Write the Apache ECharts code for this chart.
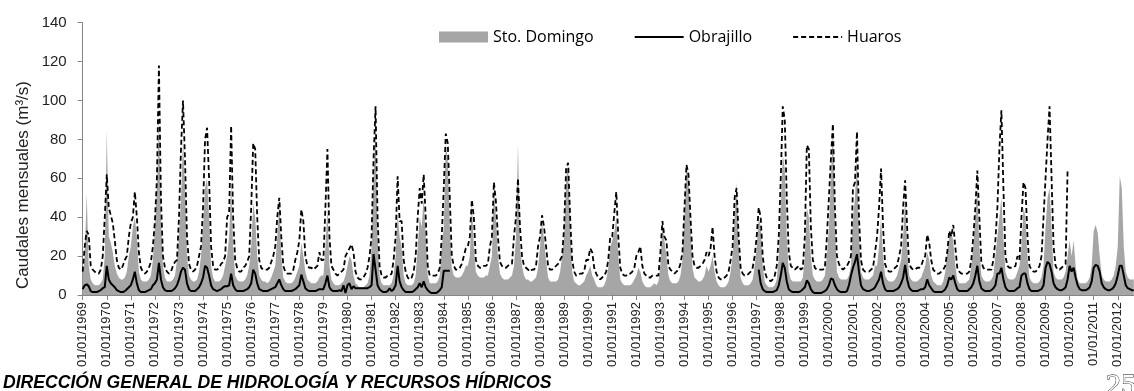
<!DOCTYPE html>
<html>
<head>
<meta charset="utf-8">
<script src="https://cdn.jsdelivr.net/npm/echarts@6/dist/echarts.min.js"></script>
<style>
html,body{margin:0;padding:0;background:#fff;}
#chart{width:1134px;height:391px;}
</style>
</head>
<body>
<div id="chart"></div>
<script>
const firstYear = 1969;
const lastYear = 2012;
const lastMonth = 9; // data ends September 2012

const yTicks = { min: 0, max: 140, step: 20 };

const seriesNames = ['Sto. Domingo', 'Obrajillo', 'Huaros'];

// Monthly flows (m3/s), one row per year Jan..Dec
const stoDomingo = [
/*1969*/ 10,20,52,15,8,6,5,5,5,6,8,20,
/*1970*/ 85,30,27,22,15,11,9,8,8,9,12,20,
/*1971*/ 25,35,40,30,12,8,7,7,7,8,10,18,
/*1972*/ 35,55,90,40,15,9,7,7,7,8,10,18,
/*1973*/ 30,50,80,55,20,10,8,7,7,8,12,20,
/*1974*/ 35,55,60,40,15,9,7,7,7,8,10,15,
/*1975*/ 20,30,57,25,10,8,7,7,7,8,10,15,
/*1976*/ 25,47,40,20,10,8,7,7,6,7,9,12,
/*1977*/ 15,30,47,20,9,7,6,6,6,7,9,12,
/*1978*/ 15,27,20,12,8,7,6,6,6,7,9,10,
/*1979*/ 10,25,45,15,8,6,5,5,5,6,7,10,
/*1980*/ 15,20,18,10,6,5,4,4,4,5,6,10,
/*1981*/ 25,60,85,30,10,6,5,5,5,5,6,10,
/*1982*/ 20,42,30,25,10,6,5,5,5,6,10,25,
/*1983*/ 40,35,50,30,10,6,6,6,6,7,10,25,
/*1984*/ 35,78,70,35,14,10,9,9,9,10,12,15,
/*1985*/ 15,20,48,25,12,10,9,9,9,10,10,15,
/*1986*/ 20,55,40,20,11,9,8,8,8,9,10,15,
/*1987*/ 30,78,25,15,10,8,8,7,7,8,9,14,
/*1988*/ 25,38,28,18,9,7,7,7,7,8,12,20,
/*1989*/ 30,60,67,35,12,7,6,5,5,6,7,10,
/*1990*/ 12,15,10,8,5,4,4,4,5,8,14,25,
/*1991*/ 28,32,40,20,8,6,5,5,5,5,6,8,
/*1992*/ 10,14,12,7,5,4,4,4,5,6,5,7,
/*1993*/ 15,36,28,20,10,7,6,6,6,7,10,18,
/*1994*/ 40,66,60,35,14,9,8,7,7,8,10,15,
/*1995*/ 12,15,20,12,7,5,4,4,4,5,7,12,
/*1996*/ 20,40,58,25,9,6,5,5,5,6,8,15,
/*1997*/ 25,40,35,15,7,5,4,4,4,5,8,20,
/*1998*/ 45,72,65,30,12,8,7,7,7,7,7,9,
/*1999*/ 20,45,40,20,10,8,7,7,7,8,10,20,
/*2000*/ 35,60,85,35,12,9,8,8,8,8,10,15,
/*2001*/ 40,50,70,30,12,9,8,8,8,9,10,15,
/*2002*/ 15,25,40,20,10,8,7,7,7,8,10,14,
/*2003*/ 18,30,50,25,10,8,7,7,7,8,9,12,
/*2004*/ 15,22,18,10,7,6,5,5,5,7,12,22,
/*2005*/ 30,32,28,15,8,6,6,6,6,7,8,15,
/*2006*/ 25,40,55,25,10,8,7,7,7,8,10,20,
/*2007*/ 30,40,50,30,12,9,8,8,8,9,12,15,
/*2008*/ 25,45,40,20,9,7,6,6,6,7,9,15,
/*2009*/ 35,50,55,35,12,9,8,8,8,9,12,20,
/*2010*/ 28,20,28,15,8,6,6,6,6,7,9,15,
/*2011*/ 33,36,32,20,10,8,7,7,7,8,10,15,
/*2012*/ 25,61,55,25,12,9,8,8,8
];

const obrajillo = [
/*1969*/ 3,5,5.5,4.5,2,1.5,1.5,1.5,2,2.5,3.5,4,
/*1970*/ 15,8,6,5,4,2.5,2,1.5,1.5,2,3,4,
/*1971*/ 5,8,12,6,2.5,1.5,1.5,1.5,2,2.5,3,5,
/*1972*/ 6,8,16.5,8,4,2.5,2,2,2,2.5,3.5,5,
/*1973*/ 8,12,14,13,6,3,2,2,2,3,4,6,
/*1974*/ 9,15,14,10,5,3,2.5,2,2.5,3,4,4.5,
/*1975*/ 4.5,5,11,5,3,2,2,2,2,2.5,3,4,
/*1976*/ 6,13,11,6,3,2.5,2,2,2,2.5,3,3.5,
/*1977*/ 4,6,8,5,3,2,2,2,2,2.5,3,4,
/*1978*/ 5,10.5,7,3.5,2.5,2,2,2,2,2.5,3,3,
/*1979*/ 3,6,10,4,2.5,2,2,2,2.5,2,5,1,
/*1980*/ 5,6,3,4.5,3.5,3.5,3.5,3.5,3.5,3.5,3.5,4,
/*1981*/ 5,21,13,5,3,2,1.5,1.5,2,3.5,2,3,
/*1982*/ 5,15,7,4,2.5,1.5,1.5,1.5,1.5,2,3,4,
/*1983*/ 6,4,7,4,2.5,1.5,1,1,1,1.5,2.5,4,
/*1984*/ 12.5,12.5,12.5,12.5,null,null,null,null,null,null,null,null,
/*1985*/ null,null,null,null,null,null,null,null,null,null,null,null,
/*1986*/ null,null,null,null,null,null,null,null,null,null,null,null,
/*1987*/ null,null,null,null,null,null,null,null,null,null,null,null,
/*1988*/ null,null,null,null,null,null,null,null,null,null,null,null,
/*1989*/ null,null,null,null,null,null,null,null,null,null,null,null,
/*1990*/ null,null,null,null,null,null,null,null,null,null,null,null,
/*1991*/ null,null,null,null,null,null,null,null,null,null,null,null,
/*1992*/ null,null,null,null,null,null,null,null,null,null,null,null,
/*1993*/ null,null,null,null,null,null,null,null,null,null,null,null,
/*1994*/ null,null,null,null,null,null,null,null,null,null,null,null,
/*1995*/ null,null,null,null,null,null,null,null,null,null,null,null,
/*1996*/ null,null,null,null,null,null,null,null,null,null,null,null,
/*1997*/ null,13,6,3,2,1.5,1.5,1.5,1.5,2,2.5,5,
/*1998*/ 10,16.5,14,7,3,2,1.5,1.5,1.5,1.5,2,3,
/*1999*/ 4,7.5,6,3,1.5,1,1,1,1,1.5,2,3,
/*2000*/ 5,8.5,8,5,3,2,1.5,1.5,1.5,2,5,10,
/*2001*/ 14,17,21,12,5,3,2.5,2,2,2.5,3,4,
/*2002*/ 6,8,12,6,3,2,2,2,2,2.5,3,4,
/*2003*/ 6,9,15.5,8,4,2.5,2,2,2,2.5,3,3,
/*2004*/ 4,8,5,3.5,2,1.5,1.5,1.5,1.5,2,3,5,
/*2005*/ 9,8,10,6,3,2,2,2,2,2,3,4,
/*2006*/ 6,10,15,7,3.5,2.5,2,2,2,2.5,3.5,5,
/*2007*/ 11,11,14,8,4,2.5,2,2,2,2.5,3.5,4,
/*2008*/ 10,11,11,6,3,2,2,2,2,2.5,3,5,
/*2009*/ 14,17,16,12,6,4,3,2.5,2.5,3,4,8,
/*2010*/ 15,12,14,9,5,3,2.5,2.5,2.5,3,4,7,
/*2011*/ 14,15.5,15,12,6,4,3,2.5,2.5,3,4,6,
/*2012*/ 10,15,15,10,5,3.5,3,2.5,2.5
];

const huaros = [
/*1969*/ 12,25,33,31,15,13,12,11,11,13,20,40,
/*1970*/ 62,45,41,37,28,18,14,13,15,18,20,30,
/*1971*/ 37,40,53,40,22,14,12,11,12,14,17,25,
/*1972*/ 38,60,118,50,20,14,12,11,12,15,17,18,
/*1973*/ 40,75,100,70,30,16,13,12,13,15,20,25,
/*1974*/ 45,80,86,60,25,15,13,13,14,16,17,20,
/*1975*/ 40,42,87,40,18,14,12,12,14,15,17,20,
/*1976*/ 45,78,75,40,18,14,13,13,13,14,17,20,
/*1977*/ 25,40,50,30,15,12,11,11,11,13,18,22,
/*1978*/ 28,44,38,20,15,14,14,13,14,15,22,18,
/*1979*/ 18,45,75,30,15,13,11,10,11,12,13,20,
/*1980*/ 22,24,26,22,12,9,8,8,9,11,14,20,
/*1981*/ 30,70,97,40,15,10,9,9,10,10,11,18,
/*1982*/ 30,61,38,38,18,12,9,8,9,12,20,40,
/*1983*/ 55,47,62,40,15,10,10,10,10,11,14,30,
/*1984*/ 55,83,78,50,20,15,13,13,14,16,20,24,
/*1985*/ 25,30,49,40,18,15,14,14,15,15,16,25,
/*1986*/ 30,58,48,30,17,15,14,14,15,16,16,30,
/*1987*/ 40,60,35,20,15,14,13,12,13,13,15,25,
/*1988*/ 30,41,35,25,15,13,13,14,15,16,18,20,
/*1989*/ 35,65,68,40,18,12,10,10,11,11,12,18,
/*1990*/ 18,24,22,14,11,9,8,9,10,12,18,30,
/*1991*/ 30,42,53,30,14,11,10,10,11,11,12,14,
/*1992*/ 20,22,25,15,11,10,9,9,10,10,10,10,
/*1993*/ 22,38,30,28,15,13,12,11,12,13,16,22,
/*1994*/ 45,67,62,40,20,15,14,14,15,16,18,22,
/*1995*/ 20,24,35,20,12,9,8,8,9,10,12,18,
/*1996*/ 25,50,55,30,14,11,10,10,11,12,14,20,
/*1997*/ 30,45,40,20,12,9,8,7,8,10,15,30,
/*1998*/ 60,97,90,50,22,15,14,13,14,15,13,14,
/*1999*/ 30,77,75,35,18,14,13,13,13,13,14,30,
/*2000*/ 50,70,88,45,20,16,14,13,14,15,17,20,
/*2001*/ 55,58,84,40,18,13,12,12,12,13,14,22,
/*2002*/ 30,45,65,35,16,13,12,12,13,14,15,20,
/*2003*/ 25,45,59,35,16,14,13,13,14,14,15,18,
/*2004*/ 20,31,27,18,13,12,11,11,12,13,15,22,
/*2005*/ 33,30,36,25,14,12,11,11,11,11,12,18,
/*2006*/ 30,45,64,40,17,14,13,13,13,13,18,28,
/*2007*/ 45,75,95,55,20,15,14,14,14,15,20,18,
/*2008*/ 40,58,55,30,15,13,12,12,13,15,20,40,
/*2009*/ 60,80,97,60,25,15,13,13,14,15,16,65
];

// Category labels: first day of every month
const categories = [];
for (let y = firstYear; y <= lastYear; y++) {
  const mEnd = (y === lastYear) ? lastMonth : 12;
  for (let m = 1; m <= mEnd; m++) {
    categories.push('01/' + String(m).padStart(2, '0') + '/' + y);
  }
}

const chart = echarts.init(document.getElementById('chart'), null, { renderer: 'canvas' });
const axisGray = '#868686';

chart.setOption({
  animation: false,
  backgroundColor: '#ffffff',
  grid: { left: 82.7, right: 0.2, top: 22.7, bottom: 96, containLabel: false },
  legend: {
    left: 434,
    top: 24,
    itemWidth: 49,
    itemHeight: 11,
    itemGap: 40,
    textStyle: { fontFamily: 'Open Sans', fontSize: 16, color: '#000' },
    data: [
      { name: seriesNames[0], icon: 'rect' },
      { name: seriesNames[1], itemStyle: { opacity: 0 } },
      { name: seriesNames[2], itemStyle: { opacity: 0 } }
    ]
  },
  xAxis: {
    type: 'category',
    data: categories,
    boundaryGap: false,
    axisLine: { show: true, lineStyle: { color: axisGray, width: 1 } },
    axisTick: { show: true, interval: 11, length: 5, lineStyle: { color: axisGray } },
    axisLabel: {
      interval: 11, rotate: 90, margin: 7,
      fontFamily: 'Liberation Sans', fontSize: 13, color: '#222'
    },
    splitLine: { show: false }
  },
  yAxis: {
    type: 'value',
    min: yTicks.min, max: yTicks.max, interval: yTicks.step,
    axisLine: { show: true, lineStyle: { color: axisGray, width: 1 } },
    axisTick: { show: true, length: 5, lineStyle: { color: axisGray } },
    axisLabel: { margin: 16, fontFamily: 'Liberation Sans', fontSize: 15, color: '#222' },
    splitLine: { show: false }
  },
  graphic: [
    {
      type: 'text', x: 23, y: 185, rotation: Math.PI / 2,
      style: {
        text: 'Caudales mensuales (m³/s)',
        font: '17px "Liberation Sans"',
        fill: '#222', align: 'center', verticalAlign: 'middle'
      }
    },
    {
      type: 'text', x: 3, y: 383,
      style: {
        text: 'DIRECCIÓN GENERAL DE HIDROLOGÍA Y RECURSOS HÍDRICOS',
        font: 'italic bold 17.6px "Liberation Sans"',
        fill: '#000', align: 'left', verticalAlign: 'middle'
      }
    },
    {
      type: 'text', x: 1106, y: 386,
      style: {
        text: '25',
        font: '30px "Liberation Serif"',
        fill: '#fff', stroke: '#000', lineWidth: 0.8,
        align: 'left', verticalAlign: 'middle'
      }
    }
  ],
  series: [
    {
      name: seriesNames[0], type: 'line', data: stoDomingo,
      symbol: 'none', z: 1,
      lineStyle: { width: 0, color: '#a6a6a6' },
      itemStyle: { color: '#a6a6a6' },
      areaStyle: { color: '#a6a6a6', opacity: 1 }
    },
    {
      name: seriesNames[1], type: 'line', data: obrajillo,
      symbol: 'none', z: 3, connectNulls: false,
      lineStyle: { width: 2, color: '#000' },
      itemStyle: { color: '#000' }
    },
    {
      name: seriesNames[2], type: 'line', data: huaros,
      symbol: 'none', z: 2,
      lineStyle: { width: 1.8, color: '#000', type: [5, 3] },
      itemStyle: { color: '#000' }
    }
  ]
});
</script>
</body>
</html>
